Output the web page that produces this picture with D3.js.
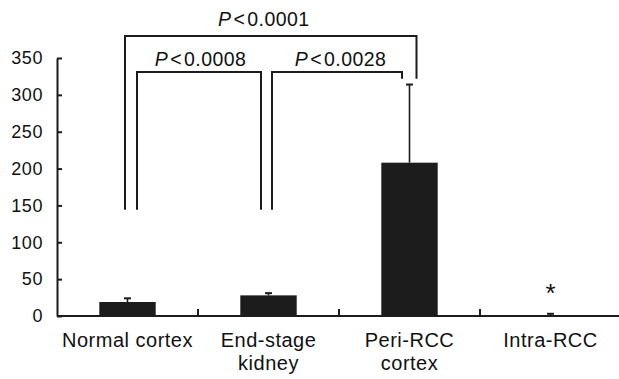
<!DOCTYPE html>
<html>
<head>
<meta charset="utf-8">
<script src="https://cdn.jsdelivr.net/npm/d3@7"></script>
<style>
  body { margin: 0; background: #fff; }
  text { font-family: "Liberation Sans", Arial, Helvetica, sans-serif; fill: #111; }
</style>
</head>
<body>
<div id="chart-div"></div>
<script>
// values
const categories = [["Normal cortex"], ["End-stage", "kidney"], ["Peri-RCC", "cortex"], ["Intra-RCC"]];
const means = [19, 28, 208, 0.5];
const errors = [5, 3, 106, 2.5];
const yTicks = [0, 50, 100, 150, 200, 250, 300, 350];
const starred = [false, false, false, true];

// significance brackets: which bars, p label, bracket height and where each leg stops (data units)
const pFrom = [0, 0, 1];
const pTo = [2, 1, 2];
const pLabels = ["0.0001", "0.0008", "0.0028"];
const pLevel = [380, 331, 331];
const pLegLeft = [144, 144, 144];
const pLegRight = [322, 144, 322];

const width = 619;
const height = 379;
const mLeft = 57, mRight = 621, mBottom = 316, mTop = 58;

const names = categories.map((c) => c.join(" "));

const x = d3.scaleBand().domain(names).range([mLeft, mRight]).paddingInner(0.6).paddingOuter(0.3);
const y = d3.scaleLinear().domain([0, 350]).range([mBottom, mTop]);

const svg = d3.select("#chart-div")
              .append("svg")
              .attr("width", width)
              .attr("height", height);

const ink = "#1c1c1c";
const mid = (i) => x(names[i]) + x.bandwidth() / 2;

/* bars */
svg.selectAll("rect.bar")
   .data(means)
   .enter()
   .append("rect")
   .attr("class", "bar")
   .attr("x", (d, i) => x(names[i]))
   .attr("y", (d) => y(d))
   .attr("width", x.bandwidth())
   .attr("height", (d) => y(0) - y(d))
   .attr("fill", ink);

/* error bars (upper half only) */
const eb = svg.selectAll("g.err")
              .data(means)
              .enter()
              .append("g")
              .attr("class", "err")
              .attr("stroke", ink)
              .attr("stroke-width", 1.6);
eb.append("line")
  .attr("x1", (d, i) => mid(i))
  .attr("x2", (d, i) => mid(i))
  .attr("y1", (d) => y(d))
  .attr("y2", (d, i) => y(d + errors[i]));
eb.append("line")
  .attr("x1", (d, i) => mid(i) - 3.5)
  .attr("x2", (d, i) => mid(i) + 3.5)
  .attr("y1", (d, i) => y(d + errors[i]))
  .attr("y2", (d, i) => y(d + errors[i]))
  .attr("stroke-width", 2);

/* asterisk */
means.forEach((d, i) => {
  if (!starred[i]) return;
  svg.append("text")
     .attr("x", mid(i))
     .attr("y", y(d + errors[i]) - 12)
     .attr("text-anchor", "middle")
     .attr("font-size", 26)
     .text("*");
});

/* y axis */
const yAxis = d3.axisLeft(y).tickValues(yTicks).tickSize(-5).tickSizeOuter(0).tickPadding(14);
const gy = svg.append("g")
              .attr("transform", `translate(${mLeft},0)`)
              .call(yAxis);
gy.select(".domain").attr("stroke", ink).attr("stroke-width", 2);
gy.selectAll(".tick line").attr("stroke", ink).attr("stroke-width", 2);
gy.selectAll(".tick text")
  .attr("font-size", 18)
  .attr("letter-spacing", 0.6)
  .attr("fill", "#111")
  .attr("font-family", "Liberation Sans, Arial, sans-serif");

/* x axis: baseline plus ticks between the groups */
svg.append("line")
   .attr("x1", mLeft).attr("x2", mRight)
   .attr("y1", y(0)).attr("y2", y(0))
   .attr("stroke", ink).attr("stroke-width", 2);

const gap = (x.step() - x.bandwidth()) / 2;
svg.selectAll("line.xtick")
   .data(names.slice(1))
   .enter()
   .append("line")
   .attr("class", "xtick")
   .attr("x1", (d) => x(d) - gap)
   .attr("x2", (d) => x(d) - gap)
   .attr("y1", y(0))
   .attr("y2", y(0) - 7)
   .attr("stroke", ink)
   .attr("stroke-width", 2);

// category labels, two lines where needed
const labels = svg.selectAll("text.cat")
                  .data(categories)
                  .enter()
                  .append("text")
                  .attr("class", "cat")
                  .attr("text-anchor", "middle")
                  .attr("font-size", 20)
                  .attr("letter-spacing", 0.5)
                  .attr("transform", (d, i) => `translate(${mid(i)},347)`);
labels.selectAll("tspan")
      .data((d) => d)
      .enter()
      .append("tspan")
      .attr("x", 0)
      .attr("dy", (d, i) => i === 0 ? 0 : 22.5)
      .text((d) => d);

/* significance brackets */
const legShift = [[-2.5, 7], [9.5, -7.5], [3.5, -7.5]];
const labelShift = [[-7, 9.5], [1.5, 6], [3.5, 6]];

pLabels.forEach((p, k) => {
  const cx0 = mid(pFrom[k]) + legShift[k][0];
  const cx1 = mid(pTo[k]) + legShift[k][1];
  const path = d3.path();
  path.moveTo(cx0, y(pLegLeft[k]));
  path.lineTo(cx0, y(pLevel[k]));
  path.lineTo(cx1, y(pLevel[k]));
  path.lineTo(cx1, y(pLegRight[k]));
  svg.append("path")
     .attr("d", path.toString())
     .attr("fill", "none")
     .attr("stroke", ink)
     .attr("stroke-width", 2);

  const t = svg.append("text")
               .attr("x", (cx0 + cx1) / 2 + labelShift[k][0])
               .attr("y", y(pLevel[k]) - labelShift[k][1])
               .attr("text-anchor", "middle")
               .attr("font-size", 19.5)
               .attr("letter-spacing", 0.4);
  t.append("tspan").attr("font-style", "italic").text("P");
  t.append("tspan").attr("dx", 2).text("<");
  t.append("tspan").attr("dx", 2).text(p);
});
</script>
</body>
</html>
